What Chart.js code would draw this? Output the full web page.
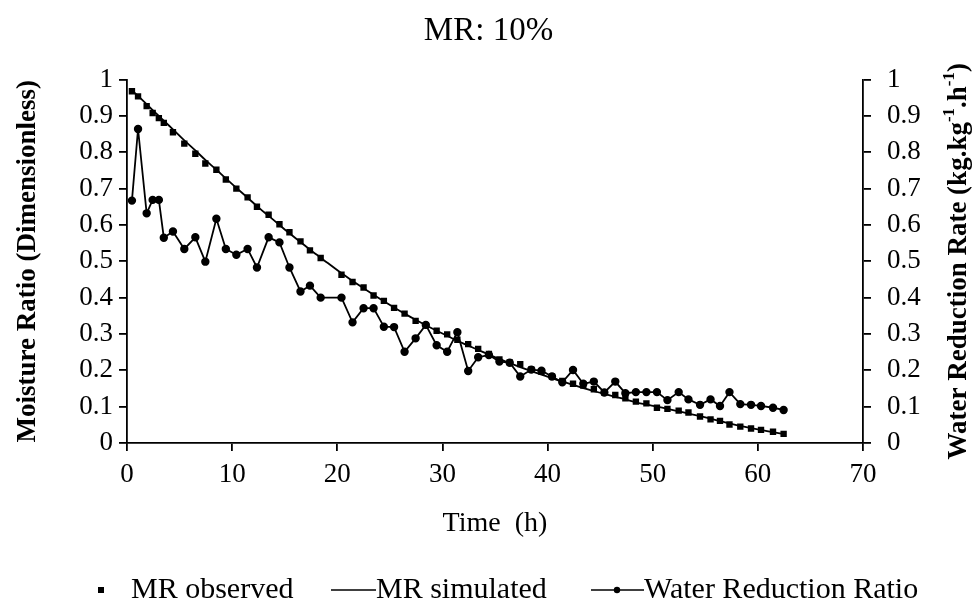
<!DOCTYPE html>
<html>
<head>
<meta charset="utf-8">
<script src="https://cdn.jsdelivr.net/npm/chart.js@4.4.1/dist/chart.umd.min.js"></script>
<style>
  html, body { margin: 0; padding: 0; background: #fff; }
  #wrap { width: 977px; height: 601px; }
</style>
</head>
<body>
<div id="wrap"><canvas id="chart" width="977" height="601"></canvas></div>
<script>
// tempo de secagem (h)
const timeH = [0.47, 1.05, 1.87, 2.44, 3.03, 3.5, 4.37, 5.45, 6.5, 7.45,
  8.5, 9.4, 10.4, 11.47, 12.36, 13.47, 14.5, 15.45, 16.5, 17.4,
  18.42, 20.4, 21.45, 22.5, 23.45, 24.43, 25.4, 26.4, 27.45, 28.42,
  29.45, 30.45, 31.42, 32.45, 33.4, 34.42, 35.42, 36.4, 37.4, 38.45,
  39.42, 40.42, 41.4, 42.42, 43.4, 44.4, 45.4, 46.44, 47.4, 48.4,
  49.4, 50.4, 51.4, 52.47, 53.4, 54.5, 55.5, 56.4, 57.3, 58.33,
  59.35, 60.3, 61.44, 62.45]

const mrObserved = [0.968, 0.954, 0.927, 0.908, 0.894, 0.881, 0.855, 0.824, 0.796, 0.769,
  0.752, 0.725, 0.700, 0.676, 0.650, 0.628, 0.602, 0.580, 0.555, 0.530,
  0.509, 0.463, 0.443, 0.428, 0.406, 0.391, 0.372, 0.356, 0.336, 0.324,
  0.309, 0.299, 0.284, 0.272, 0.259, 0.245, 0.230, 0.222, 0.217, 0.202,
  0.196, 0.183, 0.171, 0.163, 0.158, 0.148, 0.139, 0.132, 0.123, 0.114,
  0.109, 0.097, 0.094, 0.089, 0.084, 0.073, 0.065, 0.061, 0.051, 0.045,
  0.040, 0.036, 0.031, 0.025]

const mrSimulated = [0.970, 0.955, 0.932, 0.916, 0.900, 0.887, 0.863, 0.833, 0.805, 0.779,
  0.752, 0.728, 0.702, 0.675, 0.652, 0.625, 0.600, 0.577, 0.553, 0.532,
  0.510, 0.467, 0.446, 0.426, 0.408, 0.390, 0.373, 0.356, 0.339, 0.324,
  0.309, 0.295, 0.281, 0.268, 0.256, 0.243, 0.231, 0.220, 0.209, 0.198,
  0.188, 0.178, 0.169, 0.160, 0.151, 0.143, 0.135, 0.127, 0.120, 0.112,
  0.106, 0.100, 0.094, 0.087, 0.081, 0.074, 0.067, 0.060, 0.054, 0.047,
  0.041, 0.036, 0.030, 0.025]

const waterReduction = [0.667, 0.864, 0.632, 0.669, 0.669, 0.565, 0.582, 0.534, 0.566, 0.499,
  0.617, 0.534, 0.518, 0.534, 0.483, 0.566, 0.552, 0.483, 0.417, 0.433,
  0.400, 0.400, 0.332, 0.371, 0.371, 0.320, 0.319, 0.251, 0.288, 0.325,
  0.269, 0.251, 0.305, 0.198, 0.236, 0.242, 0.224, 0.221, 0.183, 0.202,
  0.199, 0.183, 0.167, 0.201, 0.163, 0.169, 0.139, 0.169, 0.137, 0.140,
  0.140, 0.140, 0.118, 0.140, 0.120, 0.105, 0.120, 0.102, 0.140, 0.107,
  0.105, 0.102, 0.097, 0.091]

const xTicks = [0, 10, 20, 30, 40, 50, 60, 70]
const yTicks = [0, 0.1, 0.2, 0.3, 0.4, 0.5, 0.6, 0.7, 0.8, 0.9, 1]

const legendLabels = ["MR observed", "MR simulated", "Water Reduction Ratio"]

const serif = "'Liberation Serif', 'Times New Roman', serif"

function toPoints(values) {
  return timeH.map((t, i) => ({ x: t, y: values[i] }))
}

function fmtTick(v) {
  return String(Math.round(v * 10) / 10)
}

// titulo do eixo direito (lido de baixo para cima) e legenda
const extrasPlugin = {
  id: "extras",
  afterDraw(chart) {
    const ctx = chart.ctx
    ctx.save()
    ctx.fillStyle = "#000"
    ctx.strokeStyle = "#000"

    // titulo eixo direito com sobrescritos
    const parts = [
      ["Water Reduction Rate (kg.kg", false],
      ["-1", true],
      [".h", false],
      ["-1", true],
      [")", false],
    ]
    const big = "bold 27px " + serif
    const small = "bold 17px " + serif
    let total = 0
    parts.forEach(([txt, sup]) => {
      ctx.font = sup ? small : big
      total += ctx.measureText(txt).width
    })
    const cy = (chart.chartArea.top + chart.chartArea.bottom) / 2
    ctx.translate(959, cy)
    ctx.rotate(-Math.PI / 2)
    ctx.textBaseline = "middle"
    let x = -total / 2
    parts.forEach(([txt, sup]) => {
      ctx.font = sup ? small : big
      ctx.fillText(txt, x, sup ? -9 : 0)
      x += ctx.measureText(txt).width
    })
    ctx.setTransform(1, 0, 0, 1, 0, 0)

    // legenda
    const ly = 590
    ctx.font = "30px " + serif
    ctx.textBaseline = "middle"
    ctx.lineWidth = 1.5
    ctx.fillRect(98, ly - 3, 6, 6)
    ctx.fillText(legendLabels[0], 131, ly)
    ctx.beginPath()
    ctx.moveTo(331, ly)
    ctx.lineTo(376, ly)
    ctx.stroke()
    ctx.fillText(legendLabels[1], 376, ly)
    ctx.beginPath()
    ctx.moveTo(591, ly)
    ctx.lineTo(644, ly)
    ctx.stroke()
    ctx.beginPath()
    ctx.arc(617, ly, 3.2, 0, Math.PI * 2)
    ctx.fill()
    ctx.fillText(legendLabels[2], 644, ly)
    ctx.restore()
  },
}

const tickFont = { family: serif, size: 27 }

const ctx = document.getElementById("chart").getContext("2d")
new Chart(ctx, {
  type: "scatter",
  data: {
    datasets: [
      {
        label: legendLabels[0],
        data: toPoints(mrObserved),
        showLine: false,
        pointStyle: "rect",
        pointRadius: 4.5,
        backgroundColor: "#000",
        borderColor: "#000",
        borderWidth: 0,
        yAxisID: "y",
      },
      {
        label: legendLabels[1],
        data: toPoints(mrSimulated),
        showLine: true,
        pointRadius: 0,
        borderColor: "#000",
        borderWidth: 1.8,
        tension: 0.3,
        yAxisID: "y",
      },
      {
        label: legendLabels[2],
        data: toPoints(waterReduction),
        showLine: true,
        pointStyle: "circle",
        pointRadius: 3.3,
        backgroundColor: "#000",
        borderColor: "#000",
        borderWidth: 1.8,
        yAxisID: "y2",
      },
    ],
  },
  options: {
    responsive: false,
    animation: false,
    layout: { padding: 0 },
    plugins: {
      legend: { display: false },
      tooltip: { enabled: false },
      title: {
        display: true,
        text: "MR: 10%",
        color: "#000",
        font: { family: serif, size: 33, weight: "normal" },
        padding: { top: 12, bottom: 28 },
      },
    },
    scales: {
      x: {
        type: "linear",
        min: 0,
        max: 70,
        afterBuildTicks: (s) => { s.ticks = xTicks.map((v) => ({ value: v })) },
        afterFit: (s) => { s.height = 158 },
        border: { color: "#000", width: 1.8 },
        grid: { drawOnChartArea: false, color: "#000", tickLength: 8, lineWidth: 1.8 },
        ticks: { color: "#000", font: tickFont, padding: 8, autoSkip: false, maxRotation: 0 },
        title: {
          display: true,
          text: "Time  (h)",
          color: "#000",
          font: { family: serif, size: 28 },
          padding: { top: 0, bottom: 61 },
        },
      },
      y: {
        position: "left",
        min: 0,
        max: 1,
        afterBuildTicks: (s) => { s.ticks = yTicks.map((v) => ({ value: v })) },
        afterFit: (s) => { s.width = 127 },
        border: { color: "#000", width: 1.8 },
        grid: { drawOnChartArea: false, color: "#000", tickLength: 8, lineWidth: 1.8 },
        ticks: { color: "#000", font: tickFont, padding: 6, autoSkip: false, callback: fmtTick },
        title: {
          display: true,
          text: "Moisture Ratio (Dimensionless)",
          color: "#000",
          font: { family: serif, size: 27, weight: "bold" },
          padding: { top: 12 },
        },
      },
      y2: {
        position: "right",
        min: 0,
        max: 1,
        afterBuildTicks: (s) => { s.ticks = yTicks.map((v) => ({ value: v })) },
        afterFit: (s) => { s.width = 114 },
        border: { color: "#000", width: 1.8 },
        grid: { drawOnChartArea: false, color: "#000", tickLength: 8, lineWidth: 1.8 },
        ticks: { color: "#000", font: tickFont, padding: 16, autoSkip: false, callback: fmtTick },
      },
    },
  },
  plugins: [extrasPlugin],
})
</script>
</body>
</html>
